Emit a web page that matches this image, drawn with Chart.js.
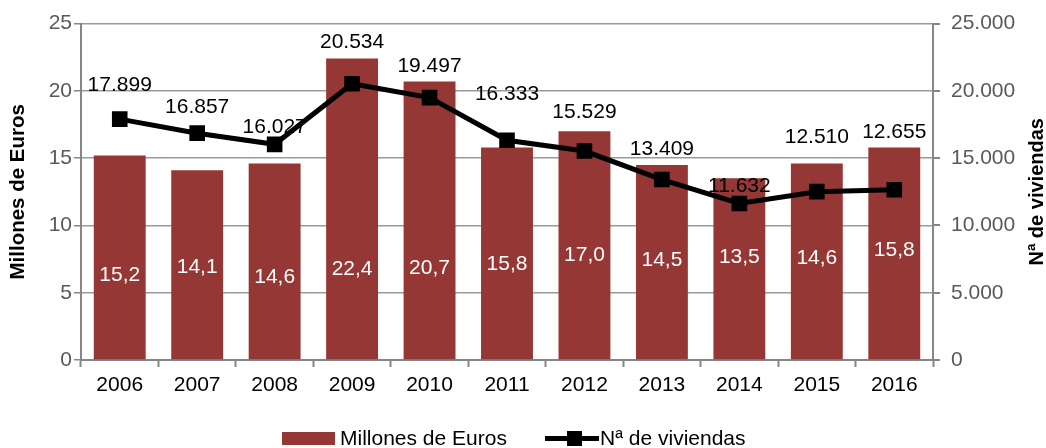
<!DOCTYPE html>
<html><head><meta charset="utf-8">
<script src="https://cdn.jsdelivr.net/npm/chart.js@4"></script>
<style>html,body{margin:0;padding:0;background:#fff}#wrap{width:1046px;height:448px}</style>
</head><body><div id="wrap"><canvas id="c" width="1046" height="448"></canvas></div>
<script>
const categories = ['2006','2007','2008','2009','2010','2011','2012','2013','2014','2015','2016'];
const eurosValues = [15.2,14.1,14.6,22.4,20.7,15.8,17.0,14.5,13.5,14.6,15.8];
const viviendasValues = [17899,16857,16027,20534,19497,16333,15529,13409,11632,12510,12655];
const leftTicks = [0,5,10,15,20,25];
const rightTicks = [0,5000,10000,15000,20000,25000];
const seriesNames = ['Millones de Euros','Nª de viviendas'];

const FONT = "'Liberation Sans', Arial, sans-serif";
const BAR = '#953735';

// label placement styles (pixel offsets)
const barLabelLift = [85,93,83,91,92,96,105,100,103,102,110];
const lineLabelLift = [34,26,17,41,31,46,39,30,17,54,58];

function fmtThousands(v){ return String(Math.round(v)).replace(/\B(?=(\d{3})+(?!\d))/g,'.'); }
function fmtComma(v){ return v.toFixed(1).replace('.',','); }

const labelsPlugin = {
  id:'labelsPlugin',
  afterDatasetsDraw(chart){
    const ctx=chart.ctx;
    const bm=chart.getDatasetMeta(0), lm=chart.getDatasetMeta(1);
    const y0=chart.scales.y.getPixelForValue(0);
    ctx.save();
    ctx.font='21px '+FONT; ctx.textAlign='center'; ctx.textBaseline='middle';
    ctx.fillStyle='#ffffff';
    bm.data.forEach((el,i)=>{ ctx.fillText(fmtComma(eurosValues[i]), el.x, y0-barLabelLift[i]); });
    ctx.fillStyle='#000000';
    lm.data.forEach((el,i)=>{ ctx.fillText(fmtThousands(viviendasValues[i]), el.x, el.y-lineLabelLift[i]); });
    ctx.restore();
  }
};
const extrasPlugin = {
  id:'extras',
  afterDraw(chart){
    const ctx=chart.ctx; const a=chart.chartArea;
    ctx.save();
    ctx.translate(1037,(a.top+a.bottom)/2);
    ctx.rotate(-Math.PI/2);
    ctx.font='bold 20px '+FONT; ctx.fillStyle='#000'; ctx.textAlign='center'; ctx.textBaseline='middle';
    ctx.fillText(seriesNames[1],0,0);
    ctx.restore();
    ctx.save();
    const ly=439;
    ctx.font='21px '+FONT; ctx.textBaseline='middle'; ctx.textAlign='left';
    ctx.fillStyle=BAR; ctx.fillRect(282,432,53,13);
    ctx.fillStyle='#000'; ctx.fillText(seriesNames[0],340,ly);
    ctx.fillRect(545,436,54,5);
    ctx.fillRect(567,431,15,15);
    ctx.fillText(seriesNames[1],600,ly);
    ctx.restore();
  }
};

new Chart(document.getElementById('c'),{
  data:{
    labels:categories,
    datasets:[
      {type:'bar',label:seriesNames[0],data:eurosValues,backgroundColor:BAR,yAxisID:'y',
       barPercentage:0.67,categoryPercentage:1,order:2},
      {type:'line',label:seriesNames[1],data:viviendasValues,borderColor:'#000',backgroundColor:'#000',
       borderWidth:5,pointStyle:'rect',pointRadius:7.5,pointHoverRadius:7.5,yAxisID:'y2',order:1,tension:0}
    ]
  },
  options:{
    responsive:false,animation:false,
    layout:{padding:{top:20,right:0,left:0,bottom:44}},
    plugins:{tooltip:{enabled:false},legend:{display:false}},
    scales:{
      x:{grid:{display:true,drawOnChartArea:false,offset:true,color:'#868686',tickLength:7,tickWidth:2},
         border:{color:'#868686',width:2},
         ticks:{color:'#000',font:{family:FONT,size:21},padding:6},
         afterFit(s){ s.height=44; }},
      y:{position:'left',min:0,max:25,afterBuildTicks(s){s.ticks=leftTicks.map(v=>({value:v}));},
         grid:{color:'#9a9a9a',borderDash:[2,3],lineWidth:1.5,tickLength:7,tickColor:'#868686'},
         border:{color:'#868686',width:2,dash:[]},
         ticks:{color:'#595959',font:{family:FONT,size:21},padding:2},
         title:{display:true,text:seriesNames[0],color:'#000',font:{family:FONT,size:20.5,weight:'bold'},padding:{top:6,bottom:0}},
         afterFit(s){ s.width=81; }},
      y2:{position:'right',min:0,max:25000,afterBuildTicks(s){s.ticks=rightTicks.map(v=>({value:v}));},
         grid:{drawOnChartArea:false,tickLength:7,color:'#868686',lineWidth:2},
         border:{color:'#868686',width:2},
         ticks:{color:'#595959',font:{family:FONT,size:21},padding:11,callback:(v)=>fmtThousands(v)},
         afterFit(s){ s.width=113; }}
    }
  },
  plugins:[labelsPlugin,extrasPlugin]
});
</script></body></html>
